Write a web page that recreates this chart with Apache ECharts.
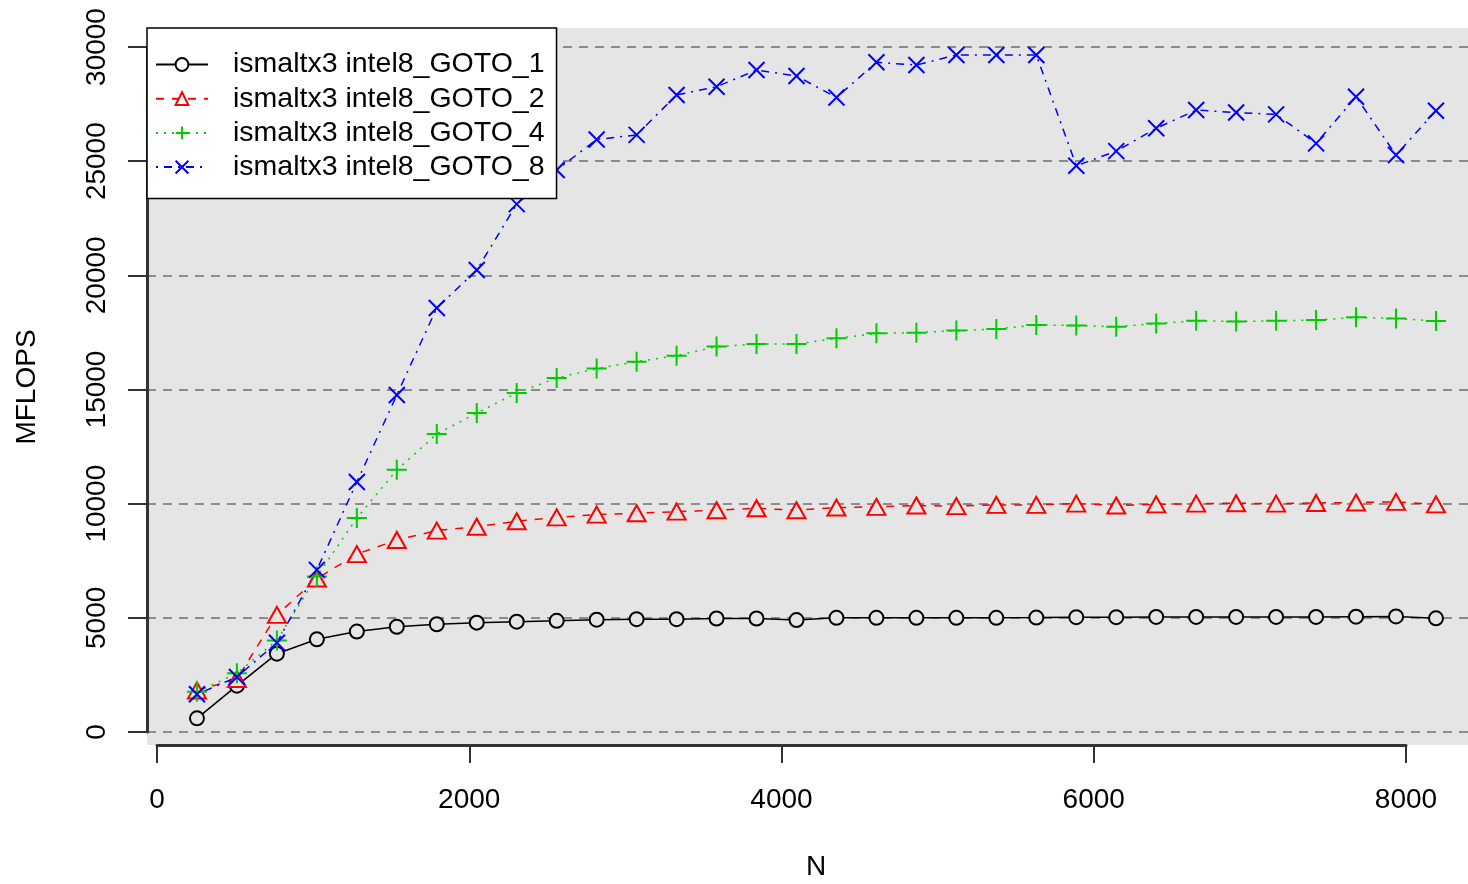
<!DOCTYPE html>
<html>
<head>
<meta charset="utf-8">
<script src="https://cdn.jsdelivr.net/npm/echarts@6/dist/echarts.min.js"></script>
<style>
html,body{margin:0;padding:0;background:#fff;}
#chart{width:1468px;height:884px;}
</style>
</head>
<body>
<div id="chart"></div>
<script>
const N = [256, 512, 768, 1024, 1280, 1536, 1792, 2048, 2304, 2560, 2816, 3072, 3328, 3584, 3840, 4096,
           4352, 4608, 4864, 5120, 5376, 5632, 5888, 6144, 6400, 6656, 6912, 7168, 7424, 7680, 7936, 8192];
const goto1 = [600, 2030, 3430, 4060, 4400, 4610, 4720, 4790, 4830, 4870, 4920, 4940, 4940, 4970, 4970, 4900,
               5000, 5000, 5000, 5000, 5000, 5010, 5030, 5030, 5040, 5040, 5040, 5040, 5040, 5050, 5060, 4980];
const goto2 = [1820, 2320, 5130, 6720, 7790, 8410, 8820, 8990, 9230, 9400, 9520, 9580, 9650, 9710, 9800, 9710,
               9830, 9860, 9920, 9890, 9945, 9945, 10000, 9920, 9970, 10000, 10020, 10000, 10030, 10050, 10080, 9970];
const goto4 = [1760, 2570, 4010, 6810, 9370, 11480, 13050, 13970, 14850, 15500, 15920, 16220, 16480, 16880, 16990, 16990,
               17240, 17460, 17490, 17580, 17650, 17830, 17800, 17750, 17890, 18010, 17980, 18010, 18040, 18160, 18110, 18000];
const goto8 = [1650, 2410, 3910, 7100, 10950, 14760, 18570, 20230, 23120, 24610, 25950, 26150, 27900, 28260, 28990, 28730,
               27790, 29330, 29210, 29650, 29650, 29650, 24800, 25440, 26440, 27240, 27130, 27050, 25780, 27820, 25270, 27210];
const seriesNames = ['ismaltx3 intel8_GOTO_1', 'ismaltx3 intel8_GOTO_2', 'ismaltx3 intel8_GOTO_4', 'ismaltx3 intel8_GOTO_8'];
const xTicks = [0, 8000, 2000];
const yTicks = [0, 30000, 5000];
const xTitle = 'N';
const yTitle = 'MFLOPS';

const FONT = 'Liberation Sans, Arial, Helvetica, sans-serif';
const BG = '#e5e5e5';
const pairs = ys => N.map((n, i) => [n, ys[i]]);

const chart = echarts.init(document.getElementById('chart'), null, {renderer: 'canvas'});
const option = {
  animation: false,
  backgroundColor: '#ffffff',
  textStyle: {fontFamily: FONT, color: '#000'},
  grid: [
    {left: 147, top: 28, width: 1321, height: 717, show: true, backgroundColor: BG, borderWidth: 0, z: 0},
    {left: 157, top: 28, width: 1249, height: 717, show: false, z: 1},
    {left: 147, top: 47, width: 1321, height: 685, show: false, z: 1}
  ],
  graphic: [
    {type: 'text', x: 816, y: 867, z: 10,
     style: {text: xTitle, fontSize: 28, fontFamily: FONT, fill: '#000', align: 'center', verticalAlign: 'middle'}},
    {type: 'text', x: 27, y: 387, rotation: Math.PI / 2, z: 10,
     style: {text: yTitle, fontSize: 28, fontFamily: FONT, fill: '#000', align: 'center', verticalAlign: 'middle'}}
  ],
  xAxis: [
    {gridIndex: 0, type: 'value', min: -64.05, max: 8397.1, show: false},
    {gridIndex: 1, type: 'value', min: xTicks[0], max: xTicks[1], interval: xTicks[2], position: 'bottom',
     axisLine: {show: true, lineStyle: {color: '#333', width: 3}},
     axisTick: {show: true, inside: false, length: 18, lineStyle: {color: '#333', width: 2}},
     axisLabel: {show: true, fontSize: 28, color: '#000', margin: 41, fontFamily: FONT, formatter: v => String(v)},
     splitLine: {show: false}},
    {gridIndex: 2, type: 'value', min: 0, max: 1, show: false}
  ],
  yAxis: [
    {gridIndex: 0, type: 'value', min: -569.3, max: 30832, show: false},
    {gridIndex: 1, type: 'value', min: 0, max: 1, show: false},
    {gridIndex: 2, type: 'value', min: yTicks[0], max: yTicks[1], interval: yTicks[2], position: 'left',
     axisLine: {show: true, lineStyle: {color: '#333', width: 3}},
     axisTick: {show: true, inside: false, length: 19, lineStyle: {color: '#333', width: 2}},
     axisLabel: {show: true, fontSize: 28, color: '#000', margin: 36, rotate: 90, fontFamily: FONT, formatter: v => String(v)},
     splitLine: {show: true, lineStyle: {color: '#8c8c8c', width: 2, type: [9, 7]}}}
  ],
  legend: {
    show: true, orient: 'vertical', left: 147, top: 28,
    padding: [22, 12, 17, 8],
    itemWidth: 52, itemHeight: 16, itemGap: 5.2,
    backgroundColor: '#ffffff', borderColor: '#000', borderWidth: 1.5, borderRadius: 0,
    textStyle: {fontSize: 28.5, lineHeight: 28, color: '#000', fontFamily: FONT, padding: [0, 0, 0, 20]},
    data: seriesNames.map(n => ({name: n, itemStyle: {color: '#ffffff'}}))
  },
  series: [
    {name: seriesNames[0], type: 'line', xAxisIndex: 0, yAxisIndex: 0, data: pairs(goto1),
     symbol: 'circle', symbolSize: 14,
     itemStyle: {color: BG, borderColor: '#000', borderWidth: 2},
     lineStyle: {color: '#000', width: 1.5, type: 'solid'}, z: 3},
    {name: seriesNames[1], type: 'line', xAxisIndex: 0, yAxisIndex: 0, data: pairs(goto2),
     symbol: 'triangle', symbolSize: [18, 16],
     itemStyle: {color: BG, borderColor: '#ff0000', borderWidth: 2},
     lineStyle: {color: '#ff0000', width: 1.5, type: [8, 8]}, z: 3},
    {name: seriesNames[2], type: 'line', xAxisIndex: 0, yAxisIndex: 0, data: pairs(goto4),
     symbol: 'path://M0,10L20,10M10,0L10,20', symbolSize: 20,
     itemStyle: {color: 'none', borderColor: '#00cd00', borderWidth: 2},
     lineStyle: {color: '#00cd00', width: 1.5, type: [2, 6]}, z: 3},
    {name: seriesNames[3], type: 'line', xAxisIndex: 0, yAxisIndex: 0, data: pairs(goto8),
     symbol: 'path://M0,0L20,20M20,0L0,20', symbolSize: 16,
     itemStyle: {color: 'none', borderColor: '#0000ff', borderWidth: 2},
     lineStyle: {color: '#0000ff', width: 1.5, type: [2, 6, 8, 6]}, z: 3}
  ]
};
chart.setOption(option);
</script>
</body>
</html>
